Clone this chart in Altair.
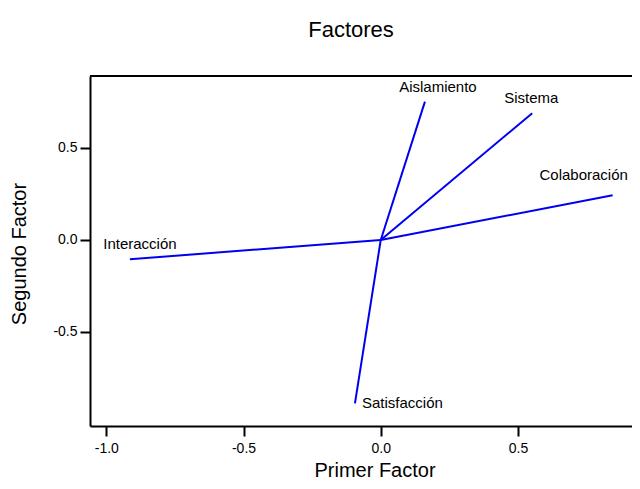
import altair as alt
import pandas as pd

names = ["Aislamiento", "Sistema", "Colaboración", "Interacción", "Satisfacción"]
fx = [0.161, 0.552, 0.845, -0.914, -0.094]
fy = [0.752, 0.689, 0.243, -0.105, -0.888]

# label offsets (pixels) relative to each vector's end
ldx = [13, -1, -29, 10, 7]
ldy = [-10, -10, -15, -10, 5]
lalign = ["center", "center", "center", "center", "left"]

rows = []
for i, n in enumerate(names):
    rows.append({"name": n, "x": 0.0, "y": 0.0, "ord": 0})
    rows.append({"name": n, "x": fx[i], "y": fy[i], "ord": 1})
lines_df = pd.DataFrame(rows)
ends_df = pd.DataFrame({"name": names, "x": fx, "y": fy})

W, H = 542, 350
FONT = "Liberation Sans"
xscale = alt.Scale(domain=[-1.0594, 0.9155], nice=False, zero=False)
yscale = alt.Scale(domain=[-1.011, 0.891], nice=False, zero=False)
lab = "replace(format(datum.value, '.1f'), '\u2212', '-')"

xaxis = alt.Axis(title="Primer Factor", values=[-1.0, -0.5, 0.0, 0.5], labelExpr=lab,
                 grid=False, domainColor="black", domainWidth=2, tickColor="black",
                 tickWidth=2, tickSize=10, labelFontSize=14, labelColor="black",
                 labelFont=FONT, titleFont=FONT, titleFontSize=20,
                 titleFontWeight="normal", titleColor="black", labelPadding=5,
                 titleX=284.5, titleY=50, titleBaseline="alphabetic", titleAlign="center")
yaxis = alt.Axis(title="Segundo Factor", values=[-0.5, 0.0, 0.5], labelExpr=lab,
                 grid=False, domainColor="black", domainWidth=2, tickColor="black",
                 tickWidth=2, tickSize=10, labelFontSize=14, labelColor="black",
                 labelFont=FONT, titleFont=FONT, titleFontSize=20,
                 titleFontWeight="normal", titleColor="black", labelPadding=3,
                 titleX=-65, titleY=177.5, titleAngle=270, titleBaseline="alphabetic",
                 titleAlign="center")

lines = alt.Chart(lines_df).mark_line(color="#0000f0", strokeWidth=2).encode(
    x=alt.X("x:Q", scale=xscale, axis=xaxis),
    y=alt.Y("y:Q", scale=yscale, axis=yaxis),
    detail="name:N",
    order="ord:Q",
)

layers = [lines]
for i, n in enumerate(names):
    t = alt.Chart(ends_df[ends_df["name"] == n]).mark_text(
        dx=ldx[i], dy=ldy[i], align=lalign[i], baseline="alphabetic",
        font=FONT, fontSize=15, color="black"
    ).encode(x=alt.X("x:Q", scale=xscale), y=alt.Y("y:Q", scale=yscale), text="name:N")
    layers.append(t)

top = alt.Chart(pd.DataFrame({"a": [0]})).mark_rule(color="black", strokeWidth=2).encode(
    y=alt.value(0), x=alt.value(0), x2=alt.value(W)
)
layers.append(top)

chart = alt.layer(*layers).properties(
    width=W, height=H,
    title=alt.TitleParams("Factores", font=FONT, fontSize=22,
                          fontWeight="normal", color="black", offset=33, dx=-10),
    autosize="none",
    padding={"left": 82, "top": 68, "right": 0, "bottom": 55},
).configure_view(stroke=None)

chart.save("out.html", embed_options={"renderer": "svg", "actions": False})
